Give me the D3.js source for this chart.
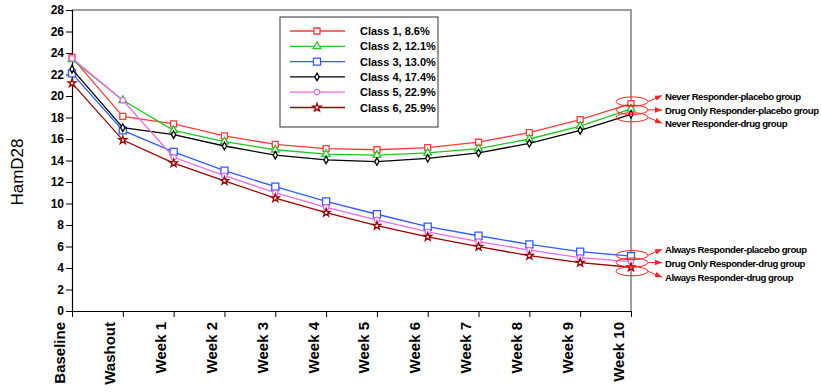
<!DOCTYPE html>
<html lang="en">
<head>
  <meta charset="UTF-8">
  <title>HamD28 trajectories by class</title>
  <script src="https://d3js.org/d3.v7.min.js"></script>
  <style>
    body { margin: 0; background: #fff; font-family: Arial, 'Liberation Sans', sans-serif; }
    svg { display: block; }
    .tick text { font-weight: bold; }
  </style>
</head>
<body>
  <svg width="821" height="392"></svg>

  <script>
    // Visit labels (x axis)
    const visits = ["Baseline", "Washout", "Week 1", "Week 2", "Week 3", "Week 4",
                    "Week 5", "Week 6", "Week 7", "Week 8", "Week 9", "Week 10"];

    const yTicks = d3.range(0, 29, 2);

    // class names shown in legend
    const classNames = ["Class 1, 8.6%", "Class 2, 12.1%", "Class 3, 13.0%",
                        "Class 4, 17.4%", "Class 5, 22.9%", "Class 6, 25.9%"];

    // mean HamD28 per visit
    const class1 = [23.6, 18.1, 17.4, 16.3, 15.5, 15.1, 15.0, 15.2, 15.7, 16.6, 17.8, 19.3];
    const class2 = [23.4, 19.6, 16.8, 15.75, 15.0, 14.6, 14.5, 14.7, 15.1, 16.0, 17.2, 18.8];
    const class3 = [22.1, 16.8, 14.8, 13.05, 11.56, 10.2, 9.0, 7.84, 7.0, 6.2, 5.52, 5.1];
    const class4 = [22.5, 17.05, 16.4, 15.35, 14.5, 14.05, 13.9, 14.2, 14.7, 15.6, 16.8, 18.3];
    const class5 = [23.5, 19.6, 14.3, 12.6, 11.0, 9.65, 8.47, 7.35, 6.45, 5.67, 4.96, 4.6];
    const class6 = [21.2, 15.9, 13.75, 12.1, 10.5, 9.15, 7.94, 6.9, 5.98, 5.15, 4.5, 4.07];

    // group labels attached to the Week 10 end points
    const upperGroups = ["Never Responder-placebo group", "Drug Only Responder-placebo group", "Never Responder-drug group"];
    const lowerGroups = ["Always Responder-placebo group", "Drug Only Responder-drug group", "Always Responder-drug group"];

    const series = [
      { name: classNames[0], values: class1, color: "#ff3b3b", symbol: d3.symbolSquare, size: 36 },
      { name: classNames[1], values: class2, color: "#1ec81e", symbol: d3.symbolTriangle, size: 26 },
      { name: classNames[2], values: class3, color: "#2f5bff", symbol: d3.symbolSquare, size: 50 },
      { name: classNames[3], values: class4, color: "#000000", symbol: d3.symbolDiamond, size: 16 },
      { name: classNames[4], values: class5, color: "#e86ae8", symbol: d3.symbolCircle, size: 24 },
      { name: classNames[5], values: class6, color: "#9b0000", symbol: d3.symbolStar, size: 20 }
    ];

    const plotLeft = 72, plotRight = 631, plotTop = 10, plotBottom = 311;

    const svg = d3.select("svg");

    const x = d3.scalePoint()
      .domain(visits)
      .range([plotLeft, plotRight]);

    const y = d3.scaleLinear()
      .domain([0, 28])
      .range([plotBottom, plotTop]);

    // frame (top + right in gray)
    svg.append("path")
      .attr("d", `M${plotLeft},${plotTop}H${plotRight}V${plotBottom}`)
      .attr("fill", "none")
      .attr("stroke", "#808080")
      .attr("stroke-width", 1.5);

    // Y axis
    const yAxis = svg.append("g")
      .attr("transform", `translate(${plotLeft},0)`)
      .call(d3.axisLeft(y).tickValues(yTicks).tickSize(6).tickPadding(2));
    yAxis.selectAll("text").attr("font-size", 12).attr("font-family", "Arial, 'Liberation Sans', sans-serif").attr("fill", "#000");
    yAxis.select(".domain").attr("stroke", "#000").attr("stroke-width", 1.2);

    // X axis
    const xAxis = svg.append("g")
      .attr("transform", `translate(0,${plotBottom})`)
      .call(d3.axisBottom(x).tickSize(6).tickSizeOuter(0));
    xAxis.select(".domain").attr("stroke", "#000").attr("stroke-width", 1.2);
    xAxis.selectAll("text")
      .attr("font-size", 15)
      .attr("font-family", "Arial, 'Liberation Sans', sans-serif")
      .attr("fill", "#000")
      .attr("text-anchor", "end")
      .attr("dy", null)
      .attr("transform", "translate(-8,11) rotate(-90)")
      .attr("x", 0)
      .attr("y", 0);

    // y title
    svg.append("text")
      .attr("transform", "translate(23,172) rotate(-90)")
      .attr("text-anchor", "middle")
      .attr("font-size", 17)
      .text("HamD28");

    // lines + markers
    const line = d3.line()
      .x((d, i) => x(visits[i]))
      .y(d => y(d));

    series.forEach(s => {
      svg.append("path")
        .datum(s.values)
        .attr("fill", "none")
        .attr("stroke", s.color)
        .attr("stroke-width", 1.3)
        .attr("d", line);

      svg.selectAll(null)
        .data(s.values)
        .join("path")
        .attr("transform", (d, i) => `translate(${x(visits[i])},${y(d)})`)
        .attr("d", d3.symbol().type(s.symbol).size(s.size))
        .attr("fill", "#fff")
        .attr("stroke", s.color)
        .attr("stroke-width", 1.3);
    });

    // legend
    const lg = svg.append("g");
    lg.append("rect")
      .attr("x", 280).attr("y", 17)
      .attr("width", 158).attr("height", 110)
      .attr("fill", "#fff")
      .attr("stroke", "#333")
      .attr("stroke-width", 1);

    series.forEach((s, i) => {
      const ly = 31 + i * 15.3;
      lg.append("line")
        .attr("x1", 290).attr("x2", 345)
        .attr("y1", ly).attr("y2", ly)
        .attr("stroke", s.color)
        .attr("stroke-width", 1.3);
      lg.append("path")
        .attr("transform", `translate(317,${ly})`)
        .attr("d", d3.symbol().type(s.symbol).size(s.size))
        .attr("fill", "#fff")
        .attr("stroke", s.color)
        .attr("stroke-width", 1.3);
      lg.append("text")
        .attr("x", 360).attr("y", ly + 4)
        .attr("font-size", 11)
        .attr("font-weight", "bold")
        .text(s.name);
    });

    // annotations around Week 10 end points
    const last = visits.length - 1;
    const xEnd = x(visits[last]);

    svg.append("defs").append("marker")
      .attr("id", "arrow")
      .attr("viewBox", "0 0 10 10")
      .attr("refX", 10).attr("refY", 5)
      .attr("markerWidth", 7).attr("markerHeight", 7)
      .attr("orient", "auto")
      .append("path")
      .attr("d", "M0,1L10,5L0,9Z")
      .attr("fill", "#ff2020");

    function annotate(group, seriesIdx, yShift) {
      group.forEach((label, k) => {
        const cy = y(series[seriesIdx[k]].values[last]) + yShift[k];
        const ty = cy + (k - 1) * 6;
        svg.append("ellipse")
          .attr("cx", xEnd + 1).attr("cy", cy)
          .attr("rx", 16).attr("ry", 4.6)
          .attr("fill", "none")
          .attr("stroke", "#ff2020")
          .attr("stroke-width", 1);
        svg.append("line")
          .attr("x1", xEnd + 17).attr("y1", cy)
          .attr("x2", xEnd + 31).attr("y2", ty)
          .attr("stroke", "#ff2020")
          .attr("stroke-width", 1)
          .attr("marker-end", "url(#arrow)");
        svg.append("text")
          .attr("x", xEnd + 34).attr("y", ty + 4)
          .attr("font-size", 9.6)
          .attr("font-weight", "bold")
          .attr("letter-spacing", -0.45)
          .text(label);
      });
    }

    annotate(upperGroups, [0, 1, 3], [-2, 1, 3]);
    annotate(lowerGroups, [2, 4, 5], [-1, 1, 4]);
  </script>
</body>
</html>
